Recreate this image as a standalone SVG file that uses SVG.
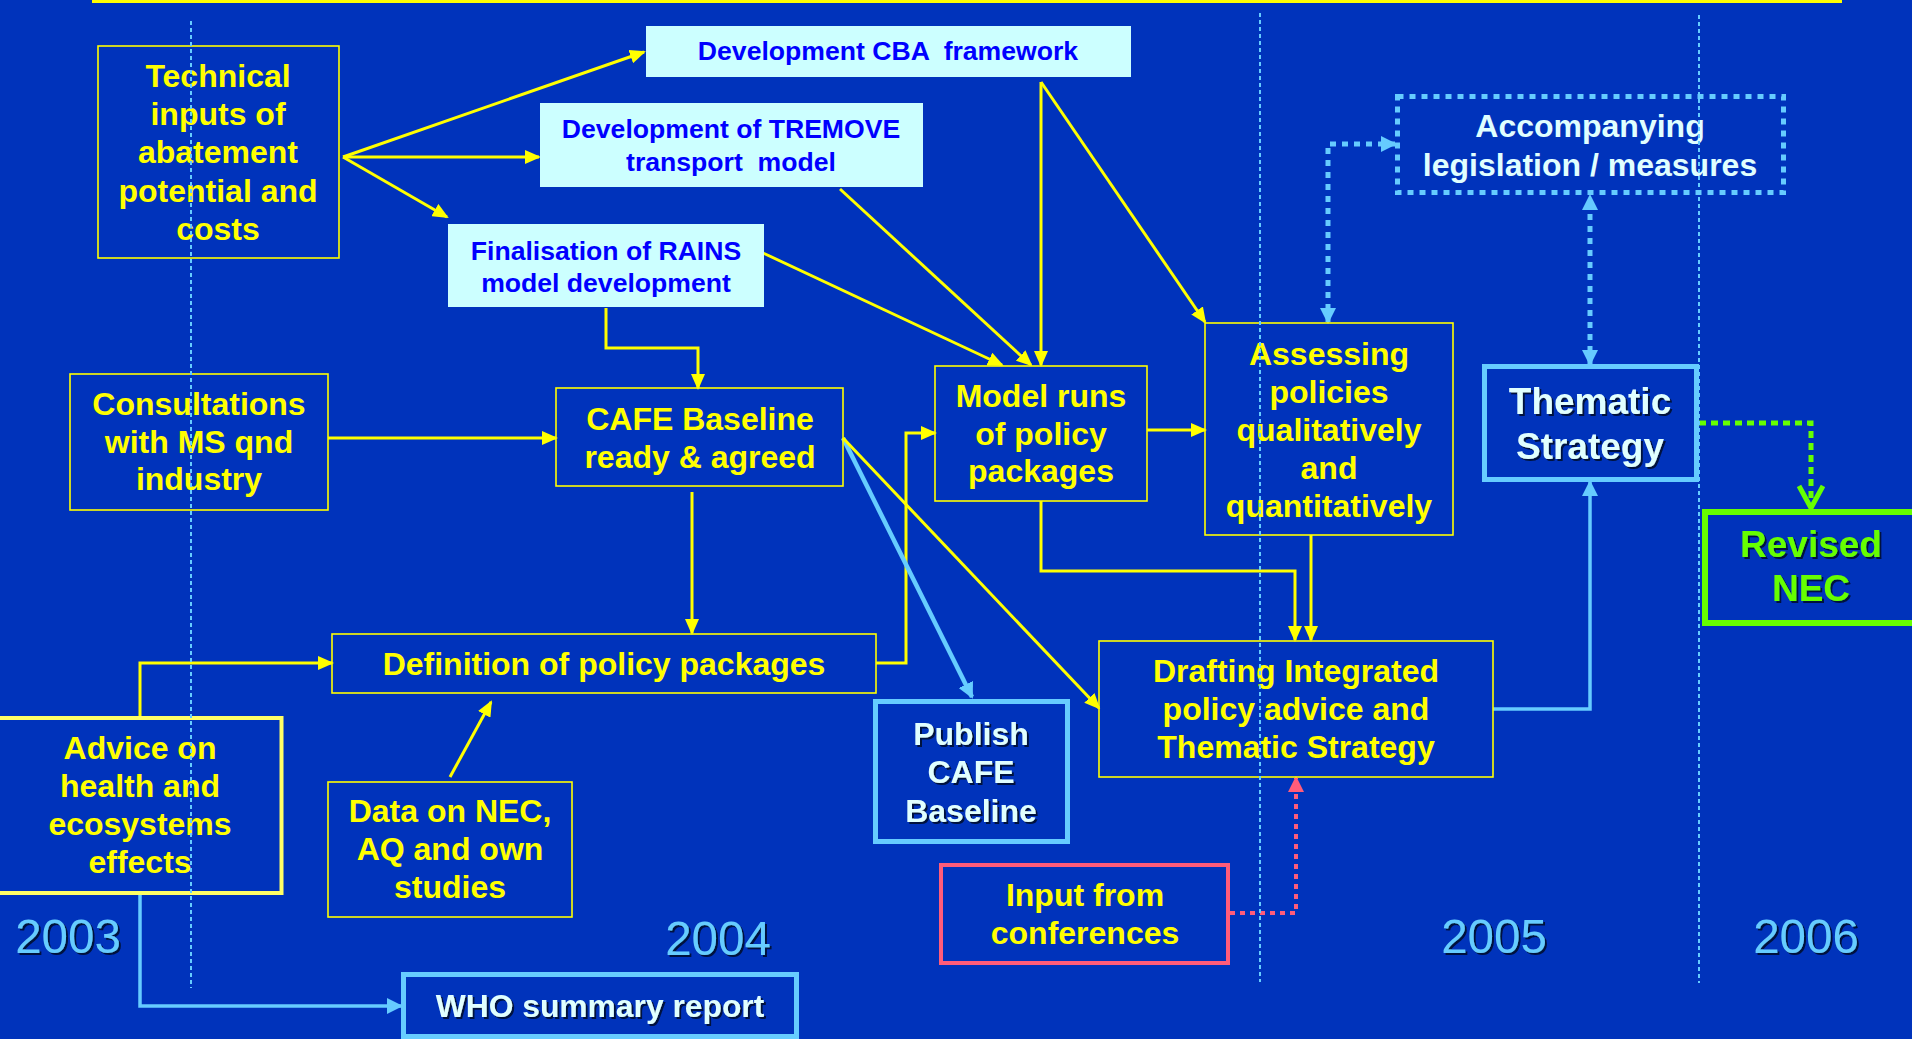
<svg xmlns="http://www.w3.org/2000/svg" width="1912" height="1039" viewBox="0 0 1912 1039">
<style>
.bg{fill:#0033BB}
.ybox{fill:none;stroke:#FFFF00;stroke-width:1.6}
.cbox{fill:#CCFFFF;stroke:none}
.t{font-family:"Liberation Sans",Arial,sans-serif;font-weight:bold;text-anchor:middle}
.ty{fill:#FFFF00;font-size:32px}
.tb{fill:#0000FF;font-size:26.6px}
.tl{fill:#E0FFFF;font-size:32px}
.yr{font-family:"Liberation Sans",Arial,sans-serif;font-size:47.5px;fill:#66CCFF;text-anchor:middle}
.cy{fill:none;stroke:#FFFF00;stroke-width:3}
.cb{fill:none;stroke:#66CCFF;stroke-width:3.5}
.cbd{fill:none;stroke:#66CCFF;stroke-width:5;stroke-dasharray:6 6}
.cg{fill:none;stroke:#66FF00;stroke-width:5;stroke-dasharray:7 5}
.cp{fill:none;stroke:#FF5C7A;stroke-width:4;stroke-dasharray:5 5}
.tl-line{fill:none;stroke:#66CCFF;stroke-width:2;stroke-dasharray:4 3}
</style>
<defs>
<marker id="ay" markerUnits="userSpaceOnUse" viewBox="0 0 16 14" refX="14" refY="7" markerWidth="16" markerHeight="14" orient="auto"><path d="M0,0 L16,7 L0,14 z" fill="#FFFF00"/></marker>
<marker id="ab" markerUnits="userSpaceOnUse" viewBox="0 0 16 16" refX="14" refY="8" markerWidth="16" markerHeight="16" orient="auto-start-reverse"><path d="M0,0 L16,8 L0,16 z" fill="#66CCFF"/></marker>
<marker id="ap" markerUnits="userSpaceOnUse" viewBox="0 0 16 16" refX="14" refY="8" markerWidth="16" markerHeight="16" orient="auto"><path d="M0,0 L16,8 L0,16 z" fill="#FF5C7A"/></marker>
<marker id="ag" markerUnits="userSpaceOnUse" viewBox="0 0 28 28" refX="24" refY="14" markerWidth="28" markerHeight="28" orient="auto"><path d="M2,2 L24,14 L2,26" fill="none" stroke="#66FF00" stroke-width="5"/></marker>
<filter id="sh" x="-10%" y="-10%" width="130%" height="140%"><feDropShadow dx="2" dy="2" stdDeviation="0.4" flood-color="#000830" flood-opacity="0.9"/></filter>
</defs>
<rect class="bg" x="0" y="0" width="1912" height="1039"/>
<rect x="92" y="0" width="1750" height="3" fill="#FFFF00"/>

<g id="connectors">
<path class="cy" d="M343,157 L644,52" marker-end="url(#ay)"/>
<path class="cy" d="M343,157 L539,157" marker-end="url(#ay)"/>
<path class="cy" d="M343,157 L447,217" marker-end="url(#ay)"/>
<path class="cy" d="M606,308 V348 H698 V388" marker-end="url(#ay)"/>
<path class="cy" d="M328,438 H556" marker-end="url(#ay)"/>
<path class="cy" d="M763,253 L1002,365" marker-end="url(#ay)"/>
<path class="cy" d="M840,189 L1031,365" marker-end="url(#ay)"/>
<path class="cy" d="M1041,82 V365" marker-end="url(#ay)"/>
<path class="cy" d="M1041,82 L1205,322" marker-end="url(#ay)"/>
<path class="cy" d="M1147,430 H1205" marker-end="url(#ay)"/>
<path class="cy" d="M692,492 V633" marker-end="url(#ay)"/>
<path class="cy" d="M876,663 H906 V433 H935" marker-end="url(#ay)"/>
<path class="cy" d="M140,716 V663 H332" marker-end="url(#ay)"/>
<path class="cb" d="M140,895 V1006 H401" marker-end="url(#ab)"/>
<path class="cy" d="M450,777 L491,702" marker-end="url(#ay)"/>
<path fill="none" stroke="#66CCFF" stroke-width="4.5" d="M843,438 L972,697" marker-end="url(#ab)"/>
<path class="cy" d="M843,438 L1099,708" marker-end="url(#ay)"/>
<path class="cy" d="M1041,501 V571 H1295 V640" marker-end="url(#ay)"/>
<path class="cy" d="M1311,535 V640" marker-end="url(#ay)"/>
<path class="cb" d="M1493,709 H1590 V482" marker-end="url(#ab)"/>
<path class="cp" d="M1230,913 H1296 V778" marker-end="url(#ap)"/>
<path class="cbd" d="M1328,322 V144 H1395" marker-start="url(#ab)" marker-end="url(#ab)"/>
<path class="cbd" d="M1590,364 V196" marker-start="url(#ab)" marker-end="url(#ab)"/>
<path class="cg" d="M1699,423 H1811 V508" marker-end="url(#ag)"/>
</g>

<g id="node-technical">
<rect class="ybox" x="98" y="46" width="241" height="212"/>
<text class="t ty"><tspan x="218" y="87">Technical</tspan><tspan x="218" y="125">inputs of</tspan><tspan x="218" y="163">abatement</tspan><tspan x="218" y="202">potential and</tspan><tspan x="218" y="240">costs</tspan></text>
</g>
<g id="node-cba">
<rect class="cbox" x="646" y="26" width="485" height="51"/>
<text class="t tb" x="888" y="60" xml:space="preserve">Development CBA  framework</text>
</g>
<g id="node-tremove">
<rect class="cbox" x="540" y="103" width="383" height="84"/>
<text class="t tb" xml:space="preserve"><tspan x="731" y="138">Development of TREMOVE</tspan><tspan x="731" y="171">transport  model</tspan></text>
</g>
<g id="node-rains">
<rect class="cbox" x="448" y="224" width="316" height="83"/>
<text class="t tb"><tspan x="606" y="260">Finalisation of RAINS</tspan><tspan x="606" y="292">model development</tspan></text>
</g>
<g id="node-consultations">
<rect class="ybox" x="70" y="374" width="258" height="136"/>
<text class="t ty"><tspan x="199" y="415">Consultations</tspan><tspan x="199" y="453">with MS qnd</tspan><tspan x="199" y="490">industry</tspan></text>
</g>
<g id="node-cafe">
<rect class="ybox" x="556" y="388" width="287" height="98"/>
<text class="t ty"><tspan x="700" y="430">CAFE Baseline</tspan><tspan x="700" y="468">ready &amp; agreed</tspan></text>
</g>
<g id="node-modelruns">
<rect class="ybox" x="935" y="366" width="212" height="135"/>
<text class="t ty"><tspan x="1041" y="407">Model runs</tspan><tspan x="1041" y="445">of policy</tspan><tspan x="1041" y="482">packages</tspan></text>
</g>
<g id="node-assessing">
<rect class="ybox" x="1205" y="323" width="248" height="212"/>
<text class="t ty"><tspan x="1329" y="365">Assessing</tspan><tspan x="1329" y="403">policies</tspan><tspan x="1329" y="441">qualitatively</tspan><tspan x="1329" y="479">and</tspan><tspan x="1329" y="517">quantitatively</tspan></text>
</g>
<g id="node-accompanying">
<rect x="1397.5" y="96.5" width="386" height="96" fill="none" stroke="#66CCFF" stroke-width="5" stroke-dasharray="6 6"/>
<text class="t tl"><tspan x="1590" y="137">Accompanying</tspan><tspan x="1590" y="176">legislation / measures</tspan></text>
</g>
<g id="node-thematic">
<rect x="1484.5" y="366.5" width="212" height="113" fill="none" stroke="#66CCFF" stroke-width="5"/>
<text class="t tl" style="font-size:37px" filter="url(#sh)"><tspan x="1590" y="414">Thematic</tspan><tspan x="1590" y="459">Strategy</tspan></text>
</g>
<g id="node-revisednec">
<rect x="1705" y="512" width="220" height="111" fill="none" stroke="#66FF00" stroke-width="6"/>
<text class="t" style="font-size:37px;fill:#66FF00" filter="url(#sh)"><tspan x="1811" y="557">Revised</tspan><tspan x="1811" y="601">NEC</tspan></text>
</g>
<g id="node-definition">
<rect class="ybox" x="332" y="634" width="544" height="59"/>
<text class="t ty" x="604" y="675">Definition of policy packages</text>
</g>
<g id="node-drafting">
<rect class="ybox" x="1099" y="641" width="394" height="136"/>
<text class="t ty"><tspan x="1296" y="682">Drafting Integrated</tspan><tspan x="1296" y="720">policy advice and</tspan><tspan x="1296" y="758">Thematic Strategy</tspan></text>
</g>
<g id="node-publish">
<rect x="875.5" y="701.5" width="192" height="140" fill="none" stroke="#66CCFF" stroke-width="5"/>
<text class="t tl" filter="url(#sh)"><tspan x="971" y="745">Publish</tspan><tspan x="971" y="783">CAFE</tspan><tspan x="971" y="822">Baseline</tspan></text>
</g>
<g id="node-advice">
<rect x="-5" y="718" width="286.5" height="175" fill="none" stroke="#FFFF66" stroke-width="4"/>
<text class="t ty"><tspan x="140" y="759">Advice on</tspan><tspan x="140" y="797">health and</tspan><tspan x="140" y="835">ecosystems</tspan><tspan x="140" y="873">effects</tspan></text>
</g>
<g id="node-data">
<rect class="ybox" x="328" y="782" width="244" height="135"/>
<text class="t ty"><tspan x="450" y="822">Data on NEC,</tspan><tspan x="450" y="860">AQ and own</tspan><tspan x="450" y="898">studies</tspan></text>
</g>
<g id="node-input">
<rect x="941" y="865" width="287" height="98" fill="none" stroke="#FF5C7A" stroke-width="4"/>
<text class="t ty"><tspan x="1085" y="906">Input from</tspan><tspan x="1085" y="944">conferences</tspan></text>
</g>
<g id="node-who">
<rect x="403.5" y="974.5" width="393" height="62" fill="none" stroke="#66CCFF" stroke-width="5"/>
<text class="t tl" style="font-size:31.8px" x="600" y="1017" filter="url(#sh)">WHO summary report</text>
</g>

<g id="years" filter="url(#sh)">
<text class="yr" x="68" y="953">2003</text>
<text class="yr" x="718" y="955">2004</text>
<text class="yr" x="1494" y="953">2005</text>
<text class="yr" x="1806" y="953">2006</text>
</g>

<g id="timeline">
<path class="tl-line" d="M191,21 V988"/>
<path class="tl-line" d="M1260,13 V982"/>
<path class="tl-line" d="M1699,15 V983"/>
</g>
</svg>
